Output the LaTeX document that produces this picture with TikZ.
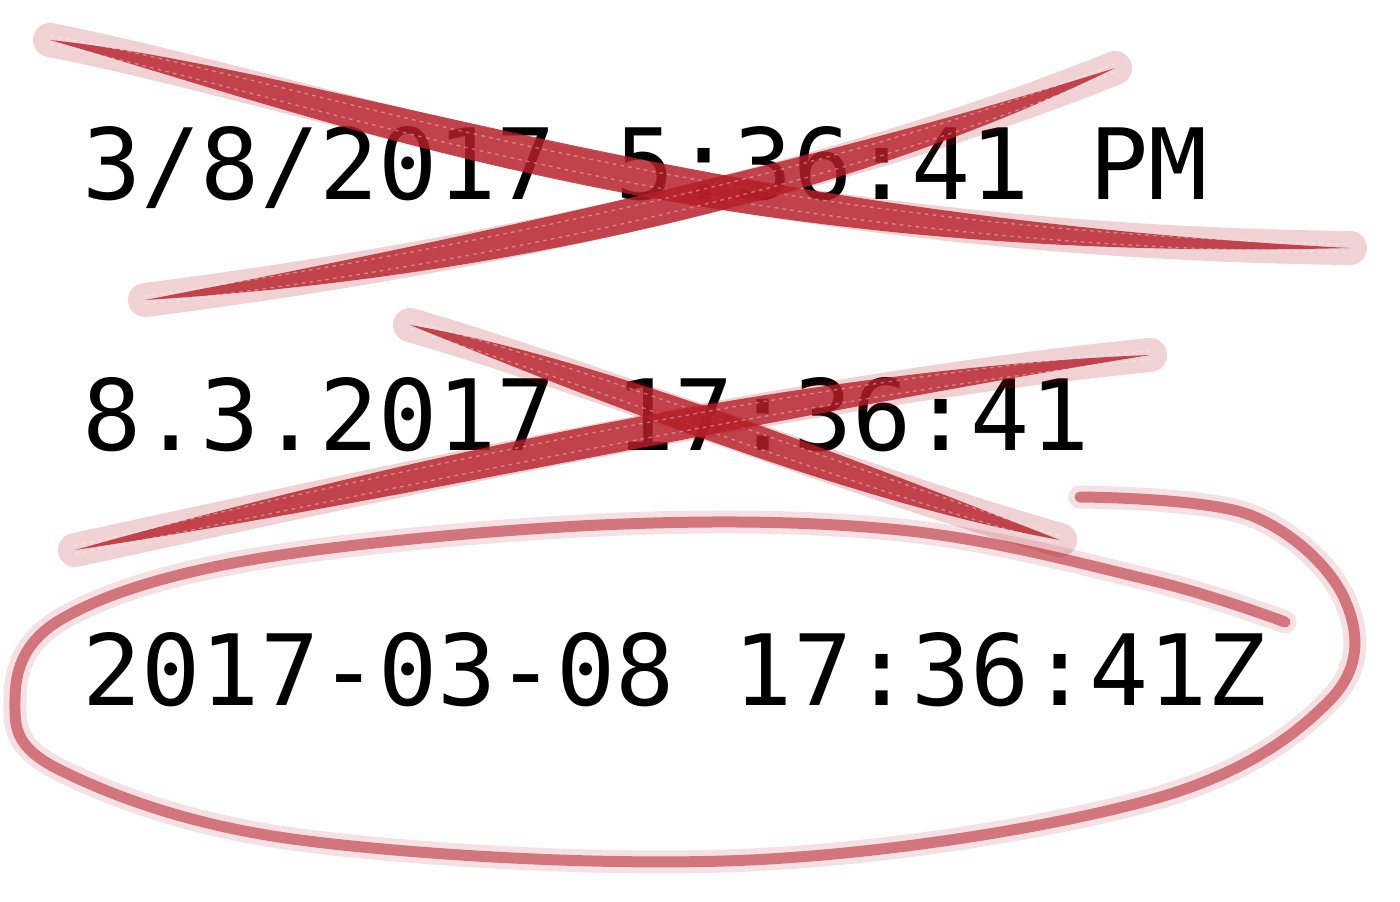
\documentclass[tikz,border=0pt]{standalone}
\usepackage{fontspec}
\setmonofont{DejaVu Sans Mono}
\usetikzlibrary{calc}
\definecolor{crayon}{RGB}{182,30,40}

% one crayon stroke: start, two controls, end, half width of the core
\newcommand\crayonstroke[5]{%
  \draw[halo] #1 .. controls #2 and #3 .. #4;
  \fill[core] #1 .. controls ($#2+(0,-#5)$) and ($#3+(0,-#5)$) .. #4
    .. controls ($#3+(0,#5)$) and ($#2+(0,#5)$) .. #1;
  \draw[grain] ($#1+(0,-4)$) .. controls ($#2+(0,-10)$) and ($#3+(0,-10)$) .. ($#4+(0,-4)$);
  \draw[grain] ($#1+(0,4)$) .. controls ($#2+(0,8)$) and ($#3+(0,8)$) .. ($#4+(0,4)$);
}

\begin{document}
\begin{tikzpicture}[x=0.02cm, y=-0.02cm]
  \tikzset{
    stamp/.style={anchor=base west, inner sep=0pt, text=black,
      font=\ttfamily\fontsize{56}{60}\selectfont},
    halo/.style={draw=crayon, line width=0.68cm, line cap=round, opacity=0.2},
    core/.style={fill=crayon, opacity=0.8},
    grain/.style={draw=white, line width=0.8pt, opacity=0.35, dash pattern={on 2pt off 2.5pt}},
    loophalo/.style={draw=crayon, line width=0.46cm, line cap=round, opacity=0.13},
    loopcore/.style={draw=crayon, line width=0.22cm, line cap=round, opacity=0.55},
  }
  \fill[white] (0,0) rectangle (1400,902);
  \useasboundingbox (0,0) rectangle (1400,902);

  \node[stamp] (us) at (82,200) {3/8/2017 5:36:41 PM};
  \node[stamp] (eu) at (82,450) {8.3.2017 17:36:41};
  \node[stamp] (iso) at (82,705) {2017-03-08 17:36:41Z};

  % first line crossed out
  \crayonstroke{(50,40)}{(330,95)}{(700,240)}{(1350,248)}{25}
  \crayonstroke{(145,300)}{(500,255)}{(850,175)}{(1115,68)}{23}

  % second line crossed out
  \crayonstroke{(410,325)}{(600,380)}{(850,480)}{(1060,540)}{22}
  \crayonstroke{(75,550)}{(400,480)}{(800,390)}{(1150,355)}{21}

  % the good one circled
  \draw[loophalo] plot[smooth, tension=0.6] coordinates {(1080,497) (1250,515) (1345,600)
    (1330,700) (1150,800) (750,860) (300,840) (60,770) (15,700) (60,620) (250,560)
    (600,525) (900,530) (1150,580) (1285,622)};
  \draw[loopcore] plot[smooth, tension=0.6] coordinates {(1080,497) (1250,515) (1345,600)
    (1330,700) (1150,800) (750,860) (300,840) (60,770) (15,700) (60,620) (250,560)
    (600,525) (900,530) (1150,580) (1285,622)};
\end{tikzpicture}
\end{document}
